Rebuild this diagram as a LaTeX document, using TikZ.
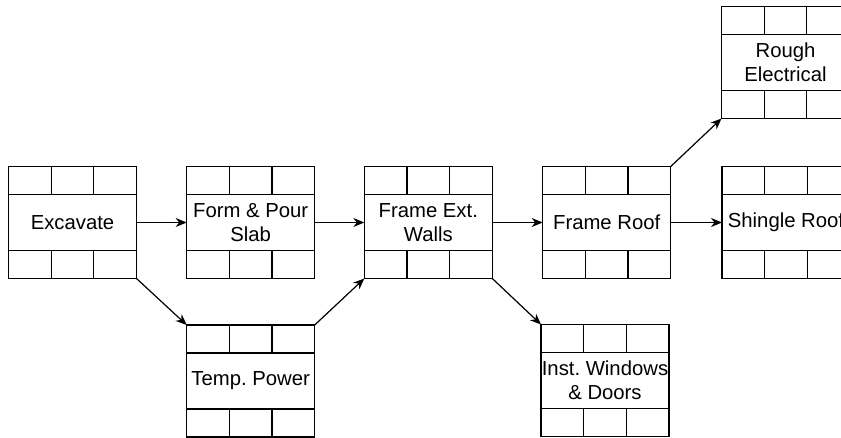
\documentclass[tikz,border=0pt]{standalone}
\usepackage{fontspec}
\setmainfont{Liberation Sans}
\usetikzlibrary{arrows.meta,calc}
\tikzset{
  actbox/.style={draw, line width=1.2pt, minimum width=128pt, minimum height=112pt,
    outer sep=0pt, inner sep=0pt, anchor=north west, align=center,
    font=\fontsize{20.3}{24}\selectfont\frenchspacing},
  cell/.style={line width=1.2pt},
  conn/.style={line width=1.2pt, -{Stealth[length=11pt,width=9pt,inset=3.5pt]}}
}
\newcommand{\actgrid}[1]{%
  \draw[cell] ($(#1.north west)+(0,28)$) -- ($(#1.north east)+(0,28)$);
  \draw[cell] ($(#1.south west)+(0,-28)$) -- ($(#1.south east)+(0,-28)$);
  \draw[cell] ($(#1.north west)+(42.7,0)$) -- ($(#1.north west)+(42.7,28)$);
  \draw[cell] ($(#1.north west)+(85.3,0)$) -- ($(#1.north west)+(85.3,28)$);
  \draw[cell] ($(#1.south west)+(42.7,0)$) -- ($(#1.south west)+(42.7,-28)$);
  \draw[cell] ($(#1.south west)+(85.3,0)$) -- ($(#1.south west)+(85.3,-28)$);
}
\begin{document}
\begin{tikzpicture}[x=1pt,y=-1pt]
\useasboundingbox (0,0) rectangle (841,437);
\clip (0,0) rectangle (841,437);
\node[actbox] (ex) at (8.5,166.5) {Excavate};
\node[actbox] (fp) at (186.7,166.5) {Form \& Pour\\Slab};
\node[actbox] (fw) at (364.3,166.5) {Frame Ext.\\Walls};
\node[actbox] (fr) at (542.7,166.5) {Frame Roof};
\node[actbox] (sr) at (722,166.5) {Shingle Roof};
\node[actbox] (re) at (721.5,6.5) {Rough\\Electrical};
\node[actbox] (tp) at (186.7,325) {Temp. Power};
\node[actbox] (iw) at (541,324.5) {Inst. Windows\\\& Doors};
\foreach \n in {ex,fp,fw,fr,sr,re,tp,iw} {\actgrid{\n}}
\draw[conn] (ex.east) -- (fp.west);
\draw[conn] (ex.south east) -- (tp.north west);
\draw[conn] (fp.east) -- (fw.west);
\draw[conn] (tp.north east) -- (fw.south west);
\draw[conn] (fw.east) -- (fr.west);
\draw[conn] (fw.south east) -- (iw.north west);
\draw[conn] (fr.east) -- (sr.west);
\draw[conn] (fr.north east) -- (re.south west);
\end{tikzpicture}
\end{document}
